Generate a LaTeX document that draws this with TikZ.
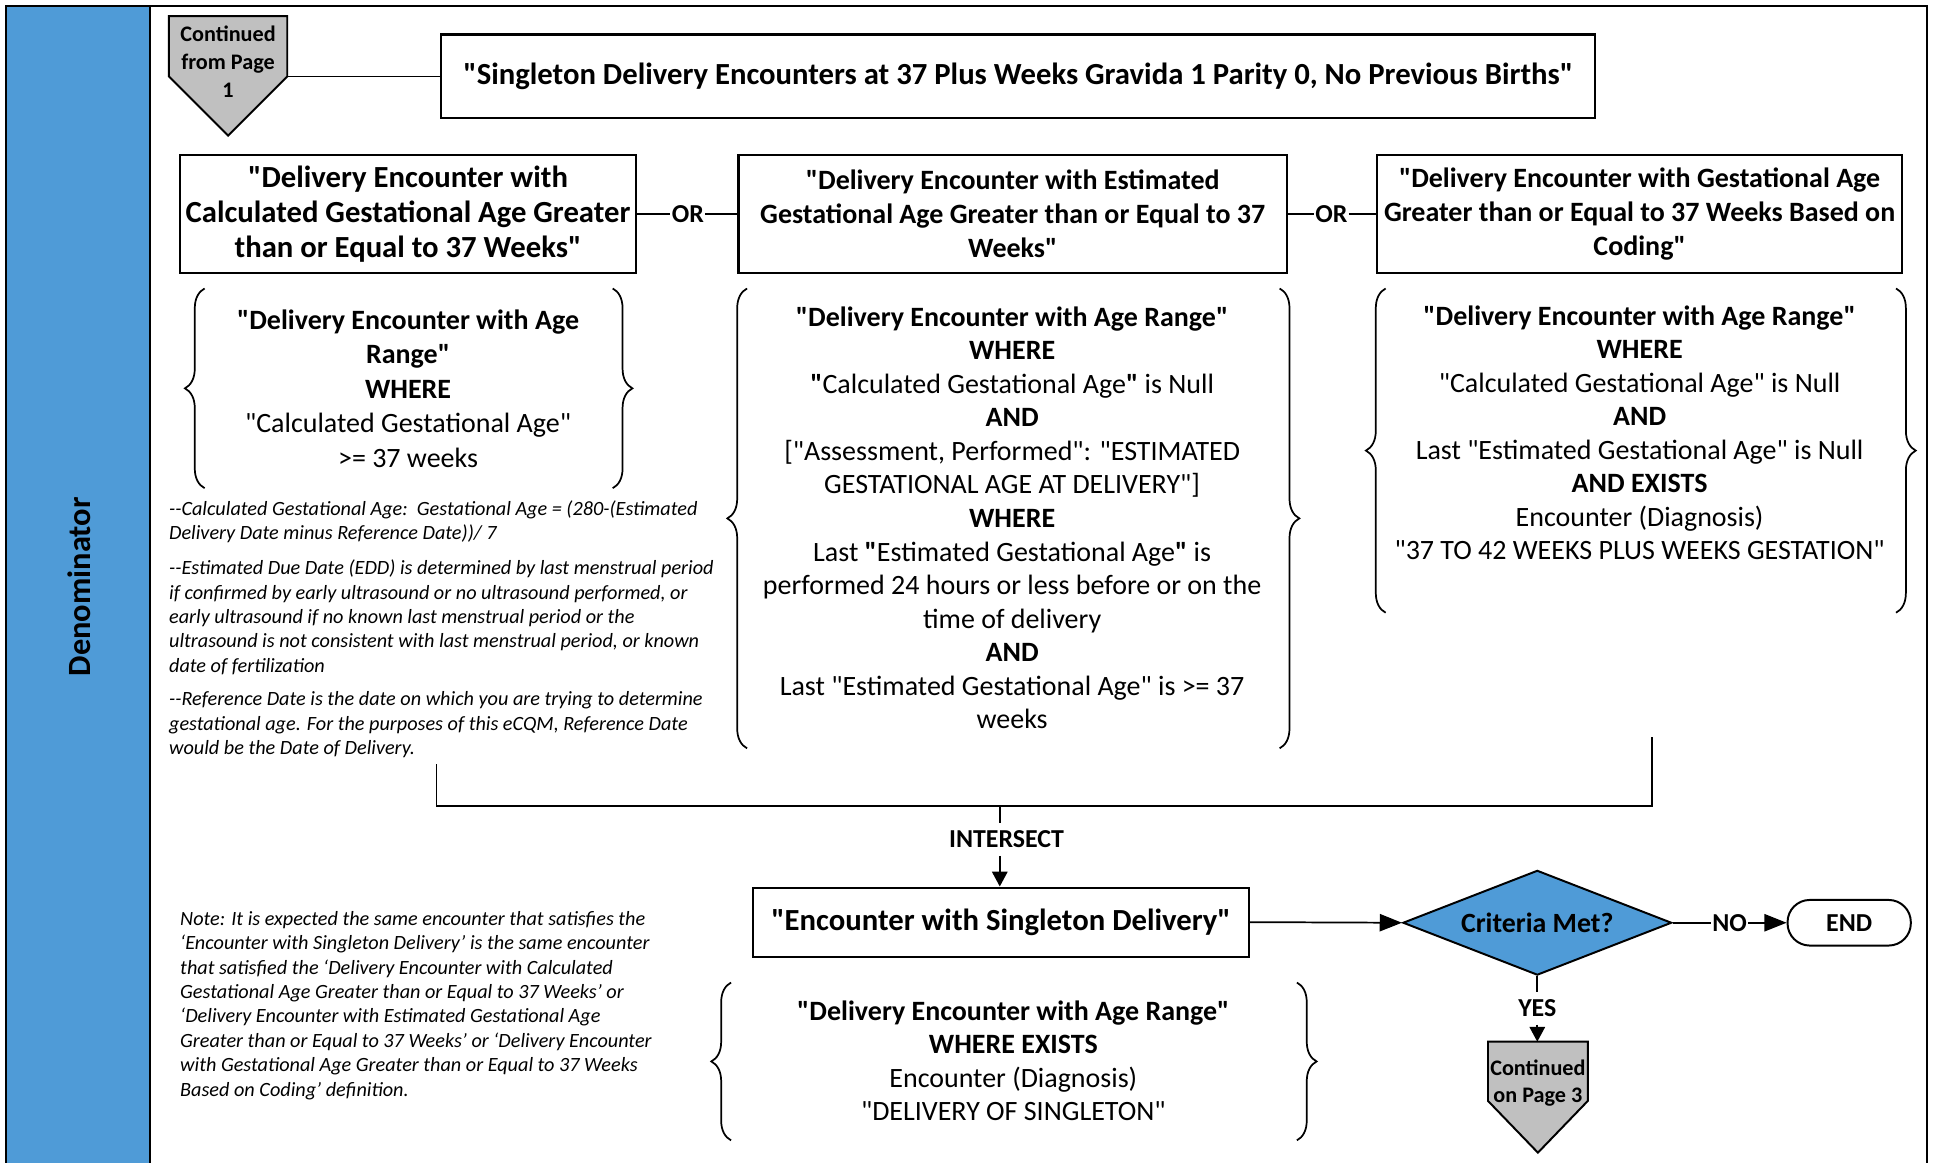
\documentclass[tikz,border=0pt]{standalone}
\usepackage{fontspec}
\setmainfont{Carlito}[Ligatures=TeXOff]
\usetikzlibrary{shapes.geometric,arrows.meta,decorations.pathreplacing}
\definecolor{lanec}{RGB}{79,155,215}
\definecolor{contc}{RGB}{192,192,192}
\newcommand{\mainsz}{\fontsize{22.7}{27.2}\selectfont}
\newcommand{\boxsz}{\fontsize{22.7}{27.5}\selectfont}
\newcommand{\bigsz}{\fontsize{24.9}{28.5}\selectfont}
\newcommand{\notesz}{\fontsize{16.4}{19.8}\selectfont}
\newcommand{\lblsz}{\fontsize{21}{24}\selectfont}
\newcommand{\contsz}{\fontsize{18}{22.5}\selectfont}
\begin{document}
\begin{tikzpicture}[x=1pt,y=-1pt,
  box/.style={draw, line width=1.8pt, align=center, inner sep=0pt, font=\boxsz\bfseries},
  txt/.style={align=center, inner sep=0pt, font=\mainsz},
  note/.style={align=left, inner sep=0pt, anchor=north west, font=\notesz\itshape},
  lbl/.style={inner xsep=1pt, inner ysep=4pt, font=\lblsz\bfseries},
  conn/.style={line width=1.4pt},
  arr/.style={line width=1.4pt, -{Triangle[length=18pt,width=14pt]}},
  varr/.style={line width=1.4pt, -{Triangle[length=12pt,width=12.5pt]}},
  bracel/.style={line width=1.4pt, decorate, decoration={brace, amplitude=16pt}},
  pent/.style={draw, line width=1.6pt, fill=contc, line join=miter},
  conttxt/.style={align=center, inner sep=0pt, font=\contsz\bfseries}]
\useasboundingbox (0,0) rectangle (1568,943);
% swimlane
\fill[lanec] (5,5) rectangle (122,945);
\draw[line width=1.6pt] (5,945) -- (5,5) -- (1563,5) -- (1563,945);
\draw[line width=1.6pt] (122,5) -- (122,945);
\node[rotate=90, inner sep=0pt, font=\fontsize{26.3}{30}\selectfont\bfseries] (lane) at (64,476) {Denominator};

% continued from page 1
\draw[pent] (137,13) -- (233,13) -- (233,62) -- (185,110) -- (137,62) -- cycle;
\coordinate (c1e) at (233,62);
\node[conttxt] (cont1) at (185,50) {Continued\\from Page\\1};

% top box
\node[box, font=\bigsz\bfseries, minimum width=936, minimum height=68] (A) at (826,62)
  {"Singleton Delivery Encounters at 37 Plus Weeks Gravida 1 Parity 0, No Previous Births"};
\draw[conn] (c1e) -- (A.west);

% row of three boxes
\node[box, font=\bigsz\bfseries, minimum width=370, minimum height=96] (B1) at (331,173.5)
  {"Delivery Encounter with\\Calculated Gestational Age Greater\\than or Equal to 37 Weeks"};
\node[box, minimum width=445, minimum height=96] (B2) at (821.5,173.5)
  {"Delivery Encounter with Estimated\\Gestational Age Greater than or Equal to 37\\Weeks"};
\node[box, minimum width=426, minimum height=96] (B3) at (1330,173.5)
  {"Delivery Encounter with Gestational Age\\Greater than or Equal to 37 Weeks Based on\\Coding"};
\node[lbl] (or1) at (558,173.5) {OR};
\node[lbl] (or2) at (1080,173.5) {OR};
\draw[conn] (B1.east) -- (or1.west);
\draw[conn] (or1.east) -- (B2.west);
\draw[conn] (B2.east) -- (or2.west);
\draw[conn] (or2.east) -- (B3.west);

% brace blocks
\node[txt] (C1) at (331,315)
  {\textbf{"Delivery Encounter with Age}\\[0.8pt]\textbf{Range"}\\[0.8pt]\textbf{WHERE}\\[0.8pt]"Calculated Gestational Age"\\[0.8pt]>= 37 weeks};
\draw[bracel] (166,396) -- (166,234);
\draw[bracel] (497,234) -- (497,396);

\node[txt] (C2) at (821,420)
  {\textbf{"Delivery Encounter with Age Range"}\\
   \textbf{WHERE}\\
   \textbf{"}Calculated Gestational Age\textbf{"} is Null\\
   \textbf{AND}\\
   {[}"Assessment, Performed": "ESTIMATED\\
   GESTATIONAL AGE AT DELIVERY"]\\
   \textbf{WHERE}\\
   Last \textbf{"}Estimated Gestational Age\textbf{"} is\\
   performed 24 hours or less before or on the\\
   time of delivery\\
   \textbf{AND}\\
   Last "Estimated Gestational Age" is >= 37\\
   weeks};
\draw[bracel] (606,607) -- (606,234);
\draw[bracel] (1038,234) -- (1038,607);

\node[txt] (C3) at (1330,351)
  {\textbf{"Delivery Encounter with Age Range"}\\
   \textbf{WHERE}\\
   "Calculated Gestational Age" is Null\\
   \textbf{AND}\\
   Last "Estimated Gestational Age" is Null\\
   \textbf{AND EXISTS}\\
   Encounter (Diagnosis)\\
   "37 TO 42 WEEKS PLUS WEEKS GESTATION"};
\draw[bracel] (1124,497) -- (1124,234);
\draw[bracel] (1538,234) -- (1538,497);

% notes
\node[note] (n1) at (137,406)
  {-{}-Calculated Gestational Age:\ \ Gestational Age = (280-(Estimated\\
   Delivery Date minus Reference Date))/ 7};
\node[note] (n2) at (137,454)
  {-{}-Estimated Due Date (EDD) is determined by last menstrual period\\
   if confirmed by early ultrasound or no ultrasound performed, or\\
   early ultrasound if no known last menstrual period or the\\
   ultrasound is not consistent with last menstrual period, or known\\
   date of fertilization};
\node[note] (n3) at (137,561)
  {-{}-Reference Date is the date on which you are trying to determine\\
   gestational age. For the purposes of this eCQM, Reference Date\\
   would be the Date of Delivery.};

% merge
\coordinate (mL) at (354,620);
\coordinate (mR) at (1340,598);
\coordinate (mJ) at (811,654);
\draw[conn] (mL) -- (mL |- mJ) -- (mR |- mJ) -- (mR);
\node[lbl, inner ysep=6pt] (inter) at (816.5,681) {INTERSECT};
\draw[conn] (mJ) -- (mJ |- inter.north);

\node[box, font=\bigsz\bfseries, minimum width=402, minimum height=56] (D) at (812,748)
  {"Encounter with Singleton Delivery"};
\draw[varr] (mJ |- inter.south) -- (mJ |- D.north);

\node[txt] (E) at (822,860.5)
  {\textbf{"Delivery Encounter with Age Range"}\\
   \textbf{WHERE EXISTS}\\
   Encounter (Diagnosis)\\
   "DELIVERY OF SINGLETON"};
\draw[bracel] (593,925) -- (593,797);
\draw[bracel] (1052,797) -- (1052,925);

\node[note] (n4) at (146,739)
  {Note: It is expected the same encounter that satisfies the\\
   ‘Encounter with Singleton Delivery’ is the same encounter\\
   that satisfied the ‘Delivery Encounter with Calculated\\
   Gestational Age Greater than or Equal to 37 Weeks’ or\\
   ‘Delivery Encounter with Estimated Gestational Age\\
   Greater than or Equal to 37 Weeks’ or ‘Delivery Encounter\\
   with Gestational Age Greater than or Equal to 37 Weeks\\
   Based on Coding’ definition.};

% decision
\node[diamond, draw, line width=1.6pt, fill=lanec, inner sep=0pt, aspect=2.6,
      minimum width=218, minimum height=85, font=\fontsize{22.6}{26}\selectfont\bfseries] (dec) at (1247,748.5) {Criteria Met?};
\draw[arr] (D.east) -- (dec.west);
\node[lbl] (no) at (1403,748.5) {NO};
\node[draw, line width=1.6pt, rounded corners=18pt, minimum width=100, minimum height=37, inner sep=0pt,
      font=\fontsize{21}{25}\selectfont\bfseries] (end) at (1500,748.5) {END};
\draw[conn] (dec.east) -- (no.west);
\draw[arr] (no.east) -- (end.west);
\node[lbl, inner ysep=6pt] (yes) at (1247,818) {YES};
\draw[conn] (dec.south) -- (yes.north);

% continued on page 3
\draw[pent] (1207,845) -- (1288,845) -- (1288,893) -- (1247.5,935) -- (1207,893) -- cycle;
\coordinate (c3t) at (1247,845);
\node[conttxt] (cont3) at (1247.5,878.5) {Continued\\on Page 3};
\draw[varr] (yes.south) -- (c3t);
\end{tikzpicture}
\end{document}
